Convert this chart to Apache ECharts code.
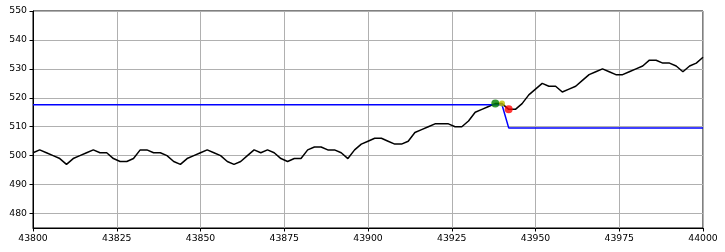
<!DOCTYPE html>
<html>
<head>
<meta charset="utf-8">
<script src="https://cdn.jsdelivr.net/npm/echarts@6/dist/echarts.min.js"></script>
<style>
html,body{margin:0;padding:0;background:#fff;}
#chart{width:725px;height:252px;}
</style>
</head>
<body>
<div id="chart"></div>
<script>
// Data
const priceX = [];
for (let i = 0; i <= 100; i++) priceX.push(43800 + 2 * i);
const priceY = [
  501,502,501,500,499,497,499,500,501,502,
  501,501,499,498,498,499,502,502,501,501,
  500,498,497,499,500,501,502,501,500,498,
  497,498,500,502,501,502,501,499,498,499,
  499,502,503,503,502,502,501,499,502,504,
  505,506,506,505,504,504,505,508,509,510,
  511,511,511,510,510,512,515,516,517,518,
  518,516,516,518,521,523,525,524,524,522,
  523,524,526,528,529,530,529,528,528,529,
  530,531,533,533,532,532,531,529,531,532,
  534
];
const levelX = [43800, 43940, 43942, 44000];
const levelY = [517.6, 517.6, 509.6, 509.6];
const entryPoint = [43938, 518];
const midPoint = [43940, 518];
const exitPoint = [43942, 516];
const xTicks = [43800, 43825, 43850, 43875, 43900, 43925, 43950, 43975, 44000];
const yTicks = [480, 490, 500, 510, 520, 530, 540, 550];

const chart = echarts.init(document.getElementById('chart'), null, {renderer: 'canvas'});
const font = {fontFamily: 'DejaVu Sans', fontSize: 9.3, color: '#000', formatter: v => String(v)};
chart.setOption({
  animation: false,
  backgroundColor: '#fff',
  grid: {left: 33, right: 22, top: 11, bottom: 24, show: true, borderColor: '#000', borderWidth: 1, backgroundColor: 'transparent'},
  xAxis: {
    type: 'value', min: 43800, max: 44000,
    axisLine: {show: true, onZero: false, lineStyle: {color: '#000', width: 1}},
    axisTick: {show: true, inside: false, length: 3.5, lineStyle: {color: '#000'}, customValues: xTicks},
    axisLabel: Object.assign({margin: 6, customValues: xTicks}, font),
    splitLine: {show: true, lineStyle: {color: '#b0b0b0', width: 1}}
  },
  yAxis: {
    type: 'value', min: 475, max: 550,
    axisLine: {show: true, onZero: false, lineStyle: {color: '#000', width: 1}},
    axisTick: {show: true, inside: false, length: 3.5, lineStyle: {color: '#000'}, customValues: yTicks},
    axisLabel: Object.assign({margin: 6, customValues: yTicks}, font),
    splitLine: {show: true, lineStyle: {color: '#b0b0b0', width: 1}}
  },
  series: [
    {type: 'line', data: priceX.map((x, i) => [x, priceY[i]]), symbol: 'none',
     lineStyle: {color: '#000', width: 1.5}, z: 2},
    {type: 'line', data: levelX.map((x, i) => [x, levelY[i]]), symbol: 'none',
     lineStyle: {color: '#0000ff', width: 1.5}, z: 3},
    {type: 'scatter', data: [entryPoint], symbolSize: 8, itemStyle: {color: '#008000'}, z: 4},
    {type: 'scatter', data: [midPoint], symbolSize: 6, itemStyle: {color: '#bfbf00'}, z: 4},
    {type: 'scatter', data: [exitPoint], symbolSize: 8, itemStyle: {color: '#ff0000'}, z: 4}
  ]
});
</script>
</body>
</html>
